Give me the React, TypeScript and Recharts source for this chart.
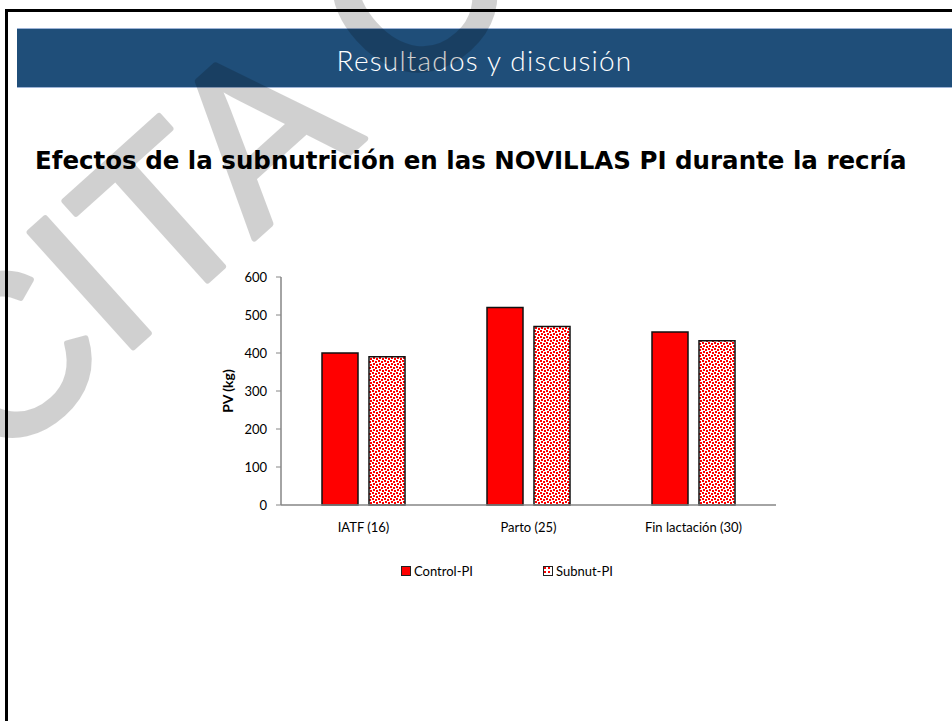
import React from "react";
import { BarChart, Bar, XAxis, YAxis, Legend } from "recharts";

// PV (kg) of the heifers at three moments, control vs subnourished
const categories = ["IATF (16)", "Parto (25)", "Fin lactación (30)"];
const controlPI = [400, 520, 455];
const subnutPI = [390, 470, 432];
const yTicks = [0, 100, 200, 300, 400, 500, 600];
const seriesNames = ["Control-PI", "Subnut-PI"];

const data = categories.map((name, i) => ({
  name,
  control: controlPI[i],
  subnut: subnutPI[i],
}));

const AXIS = "#868686";
const TICK_FONT = "Lato, 'Liberation Sans', sans-serif";

function YLabel(props: any) {
  const { viewBox } = props;
  const x = viewBox.x + 4;
  const y = viewBox.y + viewBox.height / 2;
  return (
    <text
      x={x}
      y={y}
      transform={`rotate(-90, ${x}, ${y})`}
      textAnchor="middle"
      dominantBaseline="central"
      fontFamily={TICK_FONT}
      fontWeight="bold"
      fontSize={14}
      fill="#000"
    >
      PV (kg)
    </text>
  );
}

function Swatch({ dotted }: { dotted: boolean }) {
  return (
    <svg width={10} height={10} style={{ marginRight: 3 }}>
      <defs>
        <pattern id="dotsSmall" width={4} height={4} patternUnits="userSpaceOnUse">
          <rect width={4} height={4} fill="#fff" />
          <rect x={1} y={1} width={2} height={2} fill="#ff0000" />
        </pattern>
      </defs>
      <rect
        x={0.5}
        y={0.5}
        width={9}
        height={9}
        fill={dotted ? "url(#dotsSmall)" : "#ff0000"}
        stroke="#222"
        strokeWidth={1}
      />
    </svg>
  );
}

function LegendContent() {
  return (
    <div style={{ display: "flex", alignItems: "center", fontFamily: TICK_FONT, fontSize: 13, color: "#000" }}>
      {seriesNames.map((n, i) => (
        <div key={n} style={{ display: "flex", alignItems: "center", width: i === 0 ? 142 : 90 }}>
          <Swatch dotted={i === 1} />
          <span>{n}</span>
        </div>
      ))}
    </div>
  );
}

export default function App() {
  return (
    <div
      style={{
        position: "absolute",
        left: 0,
        top: 0,
        width: 952,
        height: 721,
        overflow: "hidden",
        background: "#fff",
      }}
    >
      {/* slide frame */}
      <div
        style={{
          position: "absolute",
          left: 5,
          top: 9,
          width: 1000,
          height: 800,
          borderTop: "3px solid #000",
          borderLeft: "3px solid #000",
        }}
      />
      {/* header band */}
      <div
        style={{
          position: "absolute",
          left: 17,
          top: 28,
          width: 935,
          height: 60,
          background: "#1F4E79",
          borderTop: "1px solid #9DB3D6",
          borderBottom: "1px solid #9DB3D6",
          color: "#fff",
          fontFamily: "Lato, 'DejaVu Sans', sans-serif",
          fontWeight: 300,
          fontSize: 28,
          letterSpacing: 1.2,
          display: "flex",
          alignItems: "center",
          justifyContent: "center",
          paddingTop: 3,
          boxSizing: "border-box",
        }}
      >
        Resultados y discusión
      </div>
      <div
        style={{
          position: "absolute",
          left: 35,
          top: 146,
          fontFamily: "'DejaVu Sans', Verdana, sans-serif",
          fontWeight: "bold",
          fontSize: 24.5,
          color: "#000",
          whiteSpace: "nowrap",
        }}
      >
        Efectos de la subnutrición en las NOVILLAS PI durante la recría
      </div>

      <div style={{ position: "absolute", left: 0, top: 0 }}>
        <BarChart
          width={952}
          height={721}
          data={data}
          margin={{ top: 277, right: 176, left: 223, bottom: 186 }}
          barSize={36}
          barGap={11}
        >
          <defs>
            <pattern id="redDots" width={6} height={6} patternUnits="userSpaceOnUse">
              <rect width={6} height={6} fill="#fff" />
              <rect x={0} y={0} width={2} height={2} fill="#ff0000" />
              <rect x={3} y={1} width={2} height={2} fill="#ff0000" />
              <rect x={1} y={3} width={2} height={2} fill="#ff0000" />
              <rect x={4} y={4} width={2} height={2} fill="#ff0000" />
            </pattern>
          </defs>
          <XAxis
            dataKey="name"
            height={30}
            tickLine={false}
            axisLine={{ stroke: AXIS, strokeWidth: 1.5 }}
            tick={{ fontFamily: TICK_FONT, fontSize: 13, fill: "#000" }}
            tickMargin={12}
          />
          <YAxis
            width={58}
            domain={[0, 600]}
            ticks={yTicks}
            interval={0}
            tickSize={5}
            tickMargin={9}
            axisLine={{ stroke: AXIS, strokeWidth: 1.5 }}
            tickLine={{ stroke: AXIS }}
            tick={{ fontFamily: TICK_FONT, fontSize: 13, fill: "#000" }}
            label={<YLabel />}
          />
          <Legend
            layout="horizontal"
            verticalAlign="middle"
            align="center"
            content={<LegendContent />}
            wrapperStyle={{ top: 563, left: 401, width: 260, height: 16 }}
          />
          <Bar
            dataKey="control"
            name={seriesNames[0]}
            fill="#ff0000"
            stroke="#111"
            strokeWidth={1.5}
            isAnimationActive={false}
          />
          <Bar
            dataKey="subnut"
            name={seriesNames[1]}
            fill="url(#redDots)"
            stroke="#111"
            strokeWidth={1.5}
            isAnimationActive={false}
          />
        </BarChart>
      </div>

      {/* watermark */}
      <svg
        width={952}
        height={721}
        style={{ position: "absolute", left: 0, top: 0, pointerEvents: "none" }}
      >
        <g opacity={0.18}>
          <text
            x={-3}
            y={470}
            transform="rotate(-42, -3, 470)"
            fontFamily="'Liberation Sans', Arial, sans-serif"
            fontSize={225}
            fill="#000"
            stroke="#000"
            strokeWidth={6}
            strokeLinejoin="round"
          >
            CITA C
          </text>
        </g>
      </svg>
    </div>
  );
}
